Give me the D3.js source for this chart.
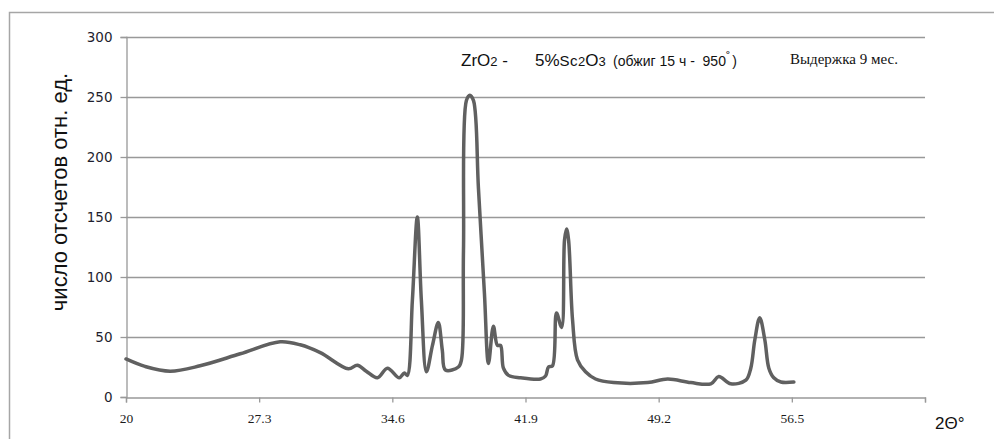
<!DOCTYPE html>
<html>
<head>
<meta charset="utf-8">
<script src="https://cdn.jsdelivr.net/npm/d3@7"></script>
<style>
  body { margin: 0; background: #fff; }
  svg { display: block; }
</style>
</head>
<body>
<div class="chart"></div>
<script>
// 2θ, degrees
var twoTheta = [20.0, 21.04, 22.42, 24.06, 26.26, 28.45, 29.55, 30.65, 32.19, 32.68,
                33.17, 33.78, 34.33, 34.98, 35.26, 35.42, 35.70, 35.97, 36.19, 36.47,
                36.80, 37.12, 37.34, 37.51, 38.22, 38.39, 38.50, 38.66, 38.85, 39.05,
                39.32, 39.65, 39.87, 40.14, 40.36, 40.53, 40.69, 40.97, 41.63, 42.72,
                43.00, 43.16, 43.38, 43.60, 43.88, 44.04, 44.15, 44.26, 44.48, 44.75,
                45.19, 45.74, 46.73, 48.60, 49.69, 50.96, 52.06, 52.49, 53.15, 53.98,
                54.25, 54.47, 54.74, 55.02, 55.24, 55.51, 55.90, 56.61];
// число отсчетов
var counts = [31.7, 25.5, 21.5, 26, 36, 46, 43.5, 37, 23.5, 26.5,
              21.5, 16, 24, 16, 20, 18, 81, 150, 81, 21,
              43, 62, 39, 22.5, 25, 31, 122, 247, 251.5, 247,
              174, 86, 28, 59, 43, 43, 24, 18, 16, 15,
              17.5, 25, 26, 70, 58, 131, 140, 131, 64, 31,
              21, 15, 12, 12, 15, 12, 11, 17, 11, 14,
              24, 47.5, 66, 47.5, 24, 16, 12.5, 12.5];

var yTicks = [0, 50, 100, 150, 200, 250, 300];
var xTicks = [20, 27.3, 34.6, 41.9, 49.2, 56.5, 63.8];
var xTickLabels = ['20', '27.3', '34.6', '41.9', '49.2', '56.5', ''];

var W = 994, H = 439;
var plotLeft = 126, plotRight = 925, plotTop = 37, plotBottom = 397;

var svg = d3.select('.chart')
            .append('svg')
            .attr('width', W)
            .attr('height', H);

// outer frame
svg.append('rect')
   .attr('x', 9.5)
   .attr('y', 12.5)
   .attr('width', 1100)
   .attr('height', 600)
   .attr('fill', 'none')
   .attr('stroke', '#a6a6a6')
   .attr('stroke-width', 1.5);

var x = d3.scaleLinear().domain([20, 63.8]).range([plotLeft, plotRight]);
var y = d3.scaleLinear().domain([0, 300]).range([plotBottom, plotTop]);

// gridlines
svg.append('g')
   .selectAll('line')
   .data(yTicks.slice(1))
   .enter().append('line')
   .attr('x1', plotLeft)
   .attr('x2', plotRight)
   .attr('y1', function(d) { return Math.round(y(d)) + 0.5; })
   .attr('y2', function(d) { return Math.round(y(d)) + 0.5; })
   .attr('stroke', '#999')
   .attr('stroke-width', 1.3);

// y axis
var yAxis = svg.append('g')
   .attr('transform', 'translate(' + (plotLeft + 0.5) + ',0)')
   .call(d3.axisLeft(y).tickValues(yTicks).tickSize(6).tickPadding(8));

// x axis
var xAxis = svg.append('g')
   .attr('transform', 'translate(0,' + (plotBottom + 0.5) + ')')
   .call(d3.axisBottom(x).tickValues(xTicks)
           .tickFormat(function(d, i) { return xTickLabels[i]; })
           .tickSize(5).tickPadding(11));

[yAxis, xAxis].forEach(function(g) {
  g.select('.domain').attr('stroke', '#999').attr('stroke-width', 1.3);
  g.selectAll('.tick line').attr('stroke', '#999').attr('stroke-width', 1.3);
});

yAxis.selectAll('text')
     .attr('font-family', 'DejaVu Sans, Verdana, sans-serif')
     .attr('font-size', '13.5px')
     .attr('fill', '#1e1e2e');

xAxis.selectAll('text')
     .attr('font-family', 'Liberation Serif, Times New Roman, serif')
     .attr('font-size', '13.5px')
     .attr('fill', '#1a1a1a');

// the curve
var line = d3.line()
             .x(function(d, i) { return x(twoTheta[i]); })
             .y(function(d) { return y(d); })
             .curve(d3.curveCatmullRom.alpha(0.5));

svg.append('path')
   .datum(counts)
   .attr('d', line)
   .attr('fill', 'none')
   .attr('stroke', '#606060')
   .attr('stroke-width', 3.5)
   .attr('stroke-linejoin', 'round')
   .attr('stroke-linecap', 'round');

// y axis title
svg.append('text')
   .text('число отсчетов отн. ед.')
   .attr('transform', 'translate(67,192) rotate(-90)')
   .attr('text-anchor', 'middle')
   .attr('font-family', 'Liberation Sans, Arial, sans-serif')
   .attr('font-size', '22px')
   .attr('fill', '#111');

// x axis title
svg.append('text')
   .text('2Θ°')
   .attr('x', 935)
   .attr('y', 429)
   .attr('font-family', 'Liberation Sans, Arial, sans-serif')
   .attr('font-size', '17px')
   .attr('fill', '#111');

// sample label
var title = svg.append('text')
   .attr('y', 66)
   .attr('font-family', 'Liberation Sans, Arial, sans-serif')
   .attr('fill', '#111');
title.append('tspan').attr('x', 461).attr('font-size', '17px').text('ZrO');
title.append('tspan').attr('font-size', '13px').text('2');
title.append('tspan').attr('font-size', '17px').attr('xml:space', 'preserve').text(' -');
title.append('tspan').attr('x', 535).attr('font-size', '17px').text('5%');
title.append('tspan').attr('font-size', '15px').attr('letter-spacing', '0.5px').text('Sc');
title.append('tspan').attr('font-size', '13px').text('2');
title.append('tspan').attr('font-size', '17px').text('O');
title.append('tspan').attr('font-size', '13px').text('3');
title.append('tspan').attr('x', 613).attr('font-size', '14px').attr('xml:space', 'preserve').text('(обжиг 15 ч -  950');
title.append('tspan').attr('font-size', '13px').attr('dy', -5).text('˚');
title.append('tspan').attr('font-size', '14px').attr('dy', 5).attr('dx', 2).text(')');

svg.append('text')
   .text('Выдержка 9 мес.')
   .attr('x', 790)
   .attr('y', 64)
   .attr('font-family', 'Liberation Serif, Times New Roman, serif')
   .attr('font-size', '15px')
   .attr('fill', '#111');
</script>
</body>
</html>
